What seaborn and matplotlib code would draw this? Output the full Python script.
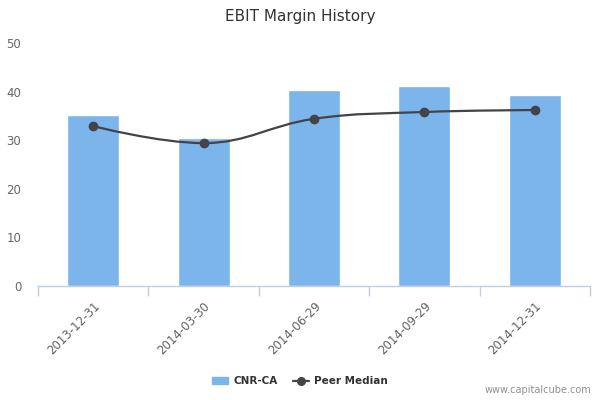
import matplotlib
matplotlib.use("Agg")
import matplotlib.pyplot as plt
from matplotlib.path import Path
import matplotlib.patches as mpatches
from matplotlib.lines import Line2D
import numpy as np
import pandas as pd
import seaborn as sns

# data
dates = ["2013-12-31", "2014-03-30", "2014-06-29", "2014-09-29", "2014-12-31"]
company = [35.2, 30.5, 40.3, 41.2, 39.3]
peer_median = [32.9, 29.4, 34.4, 35.8, 36.2]

BAR_COLOR = "#7cb5ec"
LINE_COLOR = "#434348"
AXIS_COLOR = "#c0d0e0"
TEXT_COLOR = "#606060"

sns.set_style("white")
plt.rcParams["font.family"] = ["DejaVu Sans"]


def spline_path(xs, ys, smoothing=1.5, denom=2.5):
    """Highcharts-like spline through the points as cubic Bezier segments."""
    n = len(xs)
    ctrl = []
    for i in range(n):
        if i == 0 or i == n - 1:
            ctrl.append(((xs[i], ys[i]), (xs[i], ys[i])))
            continue
        lx = (smoothing * xs[i] + xs[i - 1]) / denom
        ly = (smoothing * ys[i] + ys[i - 1]) / denom
        rx = (smoothing * xs[i] + xs[i + 1]) / denom
        ry = (smoothing * ys[i] + ys[i + 1]) / denom
        corr = ((ry - ly) * (rx - xs[i])) / (rx - lx) + ys[i] - ry
        ly += corr
        ry += corr
        if ly > max(ys[i - 1], ys[i]) or ly < min(ys[i - 1], ys[i]):
            lim = max(ys[i - 1], ys[i]) if ly > ys[i] else min(ys[i - 1], ys[i])
            ry = 2 * ys[i] - lim
            ly = lim
        if ry > max(ys[i + 1], ys[i]) or ry < min(ys[i + 1], ys[i]):
            lim = max(ys[i + 1], ys[i]) if ry > ys[i] else min(ys[i + 1], ys[i])
            ly = 2 * ys[i] - lim
            ry = lim
        ctrl.append(((lx, ly), (rx, ry)))
    verts = [(xs[0], ys[0])]
    codes = [Path.MOVETO]
    for i in range(1, n):
        verts += [ctrl[i - 1][1], ctrl[i][0], (xs[i], ys[i])]
        codes += [Path.CURVE4] * 3
    return Path(verts, codes)


df = pd.DataFrame({"date": dates, "company": company, "peer": peer_median})
xpos = np.arange(len(dates))

fig = plt.figure(figsize=(6, 4), dpi=100)
ax = fig.add_axes([38 / 600, 114 / 400, 552 / 600, 243 / 400])

sns.barplot(data=df, x="date", y="company", color=BAR_COLOR, saturation=1,
            width=0.47, ax=ax)

ax.add_patch(mpatches.PathPatch(spline_path(list(xpos), peer_median), fill=False,
                                edgecolor=LINE_COLOR, linewidth=1.6, zorder=3))
ax.plot(xpos, peer_median, linestyle="none", marker="o", markersize=6,
        color=LINE_COLOR, zorder=4)

ax.set_xlim(-0.5, len(dates) - 0.5)
ax.set_ylim(0, 50)
ax.set_yticks([0, 10, 20, 30, 40, 50])
ax.set_xlabel("")
ax.set_ylabel("")

for s in ["top", "right", "left"]:
    ax.spines[s].set_visible(False)
ax.spines["bottom"].set_color(AXIS_COLOR)
ax.spines["bottom"].set_linewidth(1)

ax.set_xticks(xpos)
ax.set_xticklabels(dates, rotation=45, ha="right", rotation_mode="anchor",
                   fontsize=8.5, color=TEXT_COLOR)
ax.set_xticks(np.arange(-0.5, len(dates)), minor=True)
ax.tick_params(axis="x", which="major", bottom=False, length=0, pad=10)
ax.tick_params(axis="x", which="minor", bottom=True, direction="out", length=7,
               color=AXIS_COLOR, width=1)
ax.tick_params(axis="y", left=False, length=0, labelsize=8.5,
               labelcolor="#666666", pad=12)

fig.text(0.5, 0.96, "EBIT Margin History", ha="center", va="center",
         fontsize=11, color="#333333", fontweight="medium")

handles = [mpatches.Patch(color=BAR_COLOR, label="CNR-CA"),
           Line2D([], [], color=LINE_COLOR, marker="o", markersize=5.5, linewidth=1.6,
                  label="Peer Median")]
leg = fig.legend(handles=handles, loc="center", bbox_to_anchor=(0.5, 0.047), ncol=2,
                 frameon=False, fontsize=7.5, handlelength=1.5, columnspacing=1.5,
                 handletextpad=0.5)
for t in leg.get_texts():
    t.set_fontweight("bold")
    t.set_color("#333333")

fig.text(0.985, 0.012, "www.capitalcube.com", ha="right", va="bottom",
         fontsize=7, color="#909090")

fig.savefig("out.png", dpi=100, facecolor="white")
